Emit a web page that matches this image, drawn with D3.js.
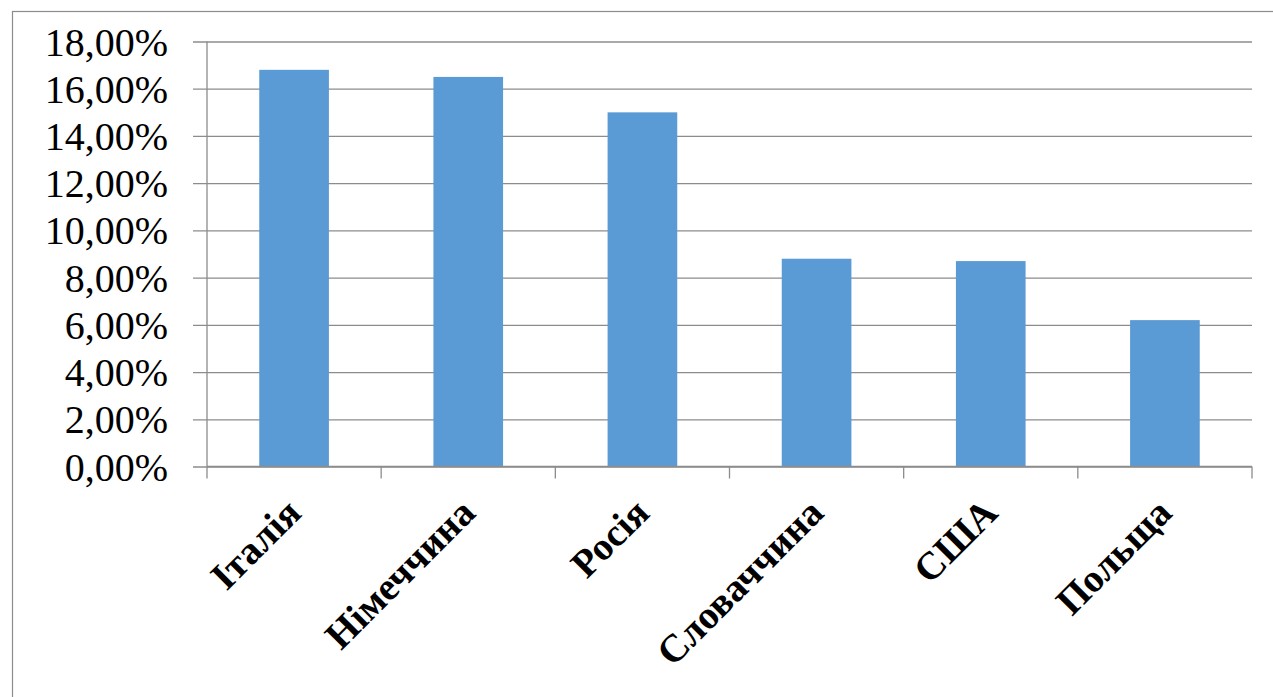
<!DOCTYPE html>
<html>
<head>
<meta charset="utf-8">
<script src="https://cdn.jsdelivr.net/npm/d3@7"></script>
<style>
  html, body { margin: 0; padding: 0; background: #fff; }
  svg { display: block; }
  .serif { font-family: 'Liberation Serif', 'DejaVu Serif', 'Times New Roman', serif; }
</style>
</head>
<body>
<svg id="chart" width="1273" height="697"></svg>
<script>
// chart data
const countries = ['Італія', 'Німеччина', 'Росія', 'Словаччина', 'США', 'Польща'];
const shares = [0.168, 0.165, 0.150, 0.088, 0.087, 0.062];
const yTicks = [0, 0.02, 0.04, 0.06, 0.08, 0.10, 0.12, 0.14, 0.16, 0.18];

const svg = d3.select('#chart');
const plotLeft = 207, plotRight = 1252, plotTop = 41.5, plotBottom = 466.5;

// outer frame (runs off the right and bottom edge)
svg.append('rect')
  .attr('x', 12.5).attr('y', 11.5)
  .attr('width', 1300).attr('height', 720)
  .attr('fill', 'none').attr('stroke', '#8c8c8c').attr('stroke-width', 1.2);

const x = d3.scaleBand().domain(countries).range([plotLeft, plotRight]).paddingInner(0.6).paddingOuter(0.3);
const y = d3.scaleLinear().domain([0, 0.18]).range([plotBottom, plotTop]);

const fmt = v => d3.format('.2f')(v * 100).replace('.', ',') + '%';

// gridlines + y labels
const yAxis = svg.append('g')
  .attr('transform', `translate(${plotLeft},0)`)
  .call(d3.axisLeft(y).tickValues(yTicks).tickFormat(fmt).tickSize(-(plotRight - plotLeft)).tickSizeOuter(0))
  .attr('font-family', null).attr('font-size', null);
yAxis.select('.domain').remove();
yAxis.selectAll('.tick line')
  .attr('x1', -14)
  .attr('stroke', '#8c8c8c').attr('stroke-width', 1.3);
yAxis.selectAll('.tick text')
  .attr('class', 'serif')
  .attr('x', -39)
  .attr('dy', '0.34em')
  .style('font-size', '40px')
  .attr('fill', '#000');

// vertical axis line
svg.append('line')
  .attr('x1', plotLeft).attr('x2', plotLeft).attr('y1', plotTop).attr('y2', plotBottom)
  .attr('stroke', '#8c8c8c').attr('stroke-width', 1.3);

// bars
svg.append('g').selectAll('rect')
  .data(shares)
  .join('rect')
  .attr('x', (d, i) => x(countries[i]))
  .attr('width', x.bandwidth())
  .attr('y', d => y(d))
  .attr('height', d => y(0) - y(d))
  .attr('fill', '#5b9bd5');

// x axis with category separators
const step = (plotRight - plotLeft) / countries.length;
const xAxis = svg.append('g');
xAxis.append('line')
  .attr('x1', plotLeft).attr('x2', plotRight).attr('y1', plotBottom).attr('y2', plotBottom)
  .attr('stroke', '#8c8c8c').attr('stroke-width', 1.3);
xAxis.selectAll('line.sep')
  .data(d3.range(countries.length + 1))
  .join('line')
  .attr('class', 'sep')
  .attr('x1', i => plotLeft + i * step).attr('x2', i => plotLeft + i * step)
  .attr('y1', plotBottom).attr('y2', plotBottom + 12)
  .attr('stroke', '#8c8c8c').attr('stroke-width', 1.3);

xAxis.selectAll('text')
  .data(countries)
  .join('text')
  .attr('class', 'serif')
  .attr('transform', d => `translate(${x(d) + x.bandwidth() / 2 + 9},515) rotate(-45)`)
  .attr('text-anchor', 'end')
  .style('font-weight', 'bold')
  .style('font-size', '39px')
  .attr('fill', '#000')
  .text(d => d);
</script>
</body>
</html>
